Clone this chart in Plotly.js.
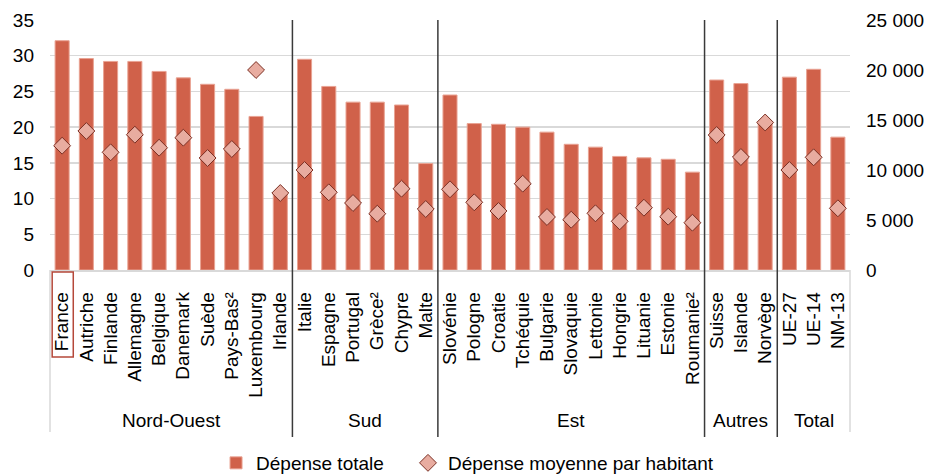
<!DOCTYPE html>
<html>
<head>
<meta charset="utf-8">
<script src="https://cdn.plot.ly/plotly-3.0.1.min.js"></script>
<style>html,body{margin:0;padding:0;background:#fff;}#chart{width:930px;height:474px;}</style>
</head>
<body>
<div id="chart"></div>
<script>
const countries = ["France","Autriche","Finlande","Allemagne","Belgique","Danemark","Suède","Pays-Bas²","Luxembourg","Irlande",
  "Italie","Espagne","Portugal","Grèce²","Chypre","Malte",
  "Slovénie","Pologne","Croatie","Tchéquie","Bulgarie","Slovaquie","Lettonie","Hongrie","Lituanie","Estonie","Roumanie²",
  "Suisse","Islande","Norvège",
  "UE-27","UE-14","NM-13"];
const groups = ["Nord-Ouest","Nord-Ouest","Nord-Ouest","Nord-Ouest","Nord-Ouest","Nord-Ouest","Nord-Ouest","Nord-Ouest","Nord-Ouest","Nord-Ouest",
  "Sud","Sud","Sud","Sud","Sud","Sud",
  "Est","Est","Est","Est","Est","Est","Est","Est","Est","Est","Est",
  "Autres","Autres","Autres",
  "Total","Total","Total"];
const depenseTotale = [32.1,29.6,29.2,29.2,27.8,26.9,26.0,25.3,21.5,10.6,
  29.5,25.7,23.5,23.5,23.1,14.9,
  24.5,20.5,20.4,20.0,19.3,17.6,17.2,15.9,15.7,15.5,13.7,
  26.6,26.1,20.6,
  27.0,28.1,18.6];
const depenseParHabitant = [12430,13900,11770,13530,12230,13230,11200,12100,20000,7700,
  10000,7770,6700,5630,8130,6100,
  8070,6770,5900,8630,5300,5030,5670,4870,6230,5330,4730,
  13500,11300,14750,
  10000,11270,6170];
const seriesNames = ["Dépense totale","Dépense moyenne par habitant"];
const highlighted = "France";

const FONT = "Liberation Sans, Arial, sans-serif";
const TXT = "#000000";
const FS = 19;

const spans = [];
groups.forEach((g,i)=>{
  if(!spans.length || spans[spans.length-1].name!==g) spans.push({name:g,start:i,end:i});
  else spans[spans.length-1].end=i;
});

const shapes = [];
const annotations = [];
spans.forEach((s,k)=>{
  annotations.push({xref:'x',yref:'paper',x:(s.start+s.end)/2,y:-0.6,text:s.name,showarrow:false,
    xanchor:'center',yanchor:'middle',font:{family:FONT,size:FS,color:TXT}});
  if(k>0){
    shapes.push({type:'line',xref:'x',yref:'paper',x0:s.start-0.5,x1:s.start-0.5,y0:-0.668,y1:1,
      line:{color:'#3a3a3a',width:1.5}});
  }
});
shapes.push({type:'line',xref:'paper',yref:'paper',x0:0,x1:0,y0:-0.648,y1:0,line:{color:'#d9d9d9',width:1.5}});
shapes.push({type:'line',xref:'paper',yref:'paper',x0:1,x1:1,y0:-0.648,y1:0,line:{color:'#d9d9d9',width:1.5}});
const hi = countries.indexOf(highlighted);
shapes.push({type:'rect',xref:'x',yref:'paper',x0:hi-0.41,x1:hi+0.46,y0:-0.348,y1:-0.008,
  line:{color:'#b5483a',width:1.5},fillcolor:'rgba(0,0,0,0)'});

const traces = [
  {type:'bar',name:seriesNames[0],x:countries,y:depenseTotale,yaxis:'y',legend:'legend',
   marker:{color:'#d0614a',line:{color:'#e9a393',width:1}}},
  {type:'scatter',mode:'markers',name:seriesNames[1],x:countries,y:depenseParHabitant,yaxis:'y2',legend:'legend2',
   marker:{symbol:'diamond',size:13,color:'#e8aca0',line:{color:'#7a2e22',width:1}}}
];

const legendBase = {orientation:'h',xref:'container',yref:'container',xanchor:'left',y:0.0232,yanchor:'middle',
  font:{family:FONT,size:FS,color:TXT},itemwidth:30,bgcolor:'rgba(0,0,0,0)'};

const layout = {
  width:930,height:474,
  margin:{l:50,r:80,t:20,b:204},
  paper_bgcolor:'#fff',plot_bgcolor:'#fff',
  separators:', ',
  font:{family:FONT,size:FS,color:TXT},
  bargap:0.42,
  showlegend:true,
  legend:Object.assign({},legendBase,{x:0.2323}),
  legend2:Object.assign({},legendBase,{x:0.4387}),
  xaxis:{type:'category',range:[-0.5,countries.length-0.5],tickmode:'array',tickvals:countries,ticktext:countries,
    tickangle:-90,showgrid:false,ticks:'',showline:true,linecolor:'#d9d9d9',linewidth:1.5,
    tickfont:{family:FONT,size:FS,color:TXT},automargin:false,fixedrange:true,ticklabelstandoff:13},
  yaxis:{range:[0,35],dtick:5,showgrid:true,gridcolor:'#d9d9d9',gridwidth:1.5,zeroline:false,
    ticks:'',tickfont:{family:FONT,size:FS,color:TXT},automargin:false,ticklabelstandoff:15},
  yaxis2:{range:[0,25000],dtick:5000,overlaying:'y',side:'right',showgrid:false,zeroline:false,
    tickformat:',d',ticks:'',tickfont:{family:FONT,size:FS,color:TXT},automargin:false,ticklabelstandoff:15},
  shapes:shapes,annotations:annotations
};

Plotly.newPlot('chart',traces,layout,{displayModeBar:false,staticPlot:true});
</script>
</body>
</html>
